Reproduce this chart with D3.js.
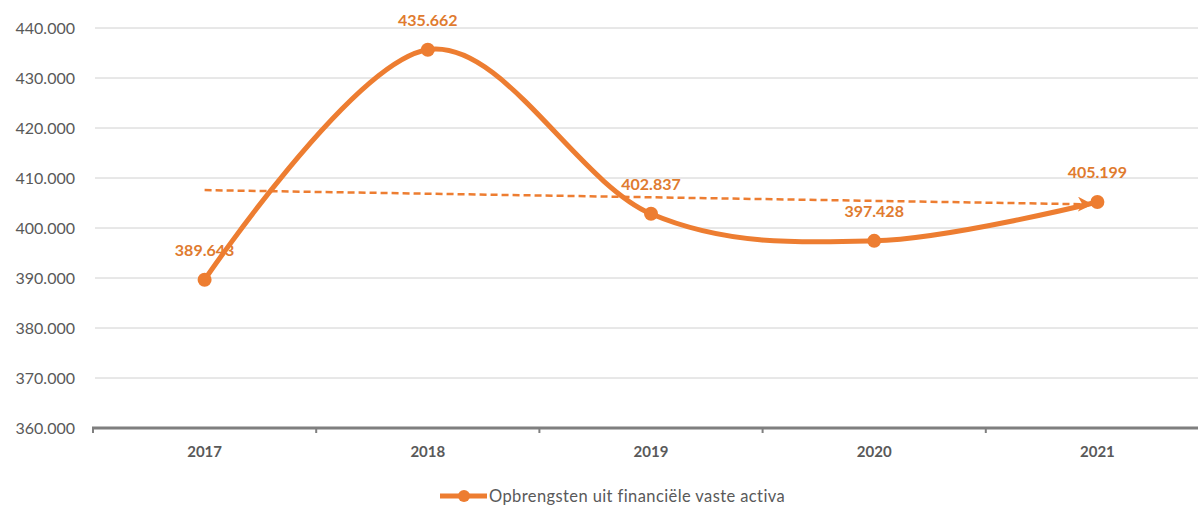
<!DOCTYPE html>
<meta charset="utf-8">
<style>
  body { margin: 0; background: #fff; }
  svg { display: block; font-family: Lato, "Open Sans", sans-serif; }
  .ylab { font-size: 16px; fill: #595959; text-anchor: end; }
  .xlab { font-size: 15px; font-weight: bold; fill: #595959; text-anchor: middle; }
  .grid line { stroke: #d0d0d0; stroke-width: 1; }
  .vlab { font-size: 16px; font-weight: bold; fill: #e07b2f; text-anchor: middle; }
  .legend { font-size: 16.5px; fill: #595959; letter-spacing: 0.4px; }
</style>
<body>
<svg width="1198" height="506"></svg>
<script src="https://d3js.org/d3.v7.min.js"></script>
<script>

var years = ["2017", "2018", "2019", "2020", "2021"];
var values = [389.643, 435.662, 402.837, 397.428, 405.199];
var yTicks = [360, 370, 380, 390, 400, 410, 420, 430, 440];
var seriesName = "Opbrengsten uit financiële vaste activa";

var orange = "#ed7d31";

var svg = d3.select("svg");

var x = d3.scaleBand()
    .domain(years)
    .range([93, 1209])
    .padding(0);

var y = d3.scaleLinear()
    .domain([360, 440])
    .range([428, 28]);

var fmt = function(v) { return d3.format(".3f")(v); };
var cx = function(d) { return x(d) + x.bandwidth() / 2; };

// gridlines
svg.append("g")
    .attr("class", "grid")
    .selectAll("line")
    .data(yTicks.filter(function(t) { return t > 360; }))
    .enter().append("line")
      .attr("x1", 95)
      .attr("x2", 1198)
      .attr("y1", function(d) { return y(d); })
      .attr("y2", function(d) { return y(d); });

// y labels
svg.append("g")
    .selectAll("text")
    .data(yTicks)
    .enter().append("text")
      .attr("class", "ylab")
      .attr("x", 75)
      .attr("y", function(d) { return y(d) + 6; })
      .text(function(d) { return fmt(d); });

// x axis
var xAxis = svg.append("g")
    .attr("transform", "translate(0," + y(360) + ")");
xAxis.append("line")
    .attr("x1", 92).attr("x2", 1198)
    .attr("y1", 0).attr("y2", 0)
    .attr("stroke", "#7f7f7f")
    .attr("stroke-width", 3);
xAxis.selectAll(".tick")
    .data(years)
    .enter().append("line")
      .attr("x1", function(d) { return x(d); })
      .attr("x2", function(d) { return x(d); })
      .attr("y1", 0).attr("y2", 5)
      .attr("stroke", "#7f7f7f")
      .attr("stroke-width", 2);
xAxis.selectAll("text")
    .data(years)
    .enter().append("text")
      .attr("class", "xlab")
      .attr("x", function(d) { return cx(d); })
      .attr("y", 29)
      .text(function(d) { return d; });

// value labels (under the line)
svg.append("g")
    .selectAll("text")
    .data(years)
    .enter().append("text")
      .attr("class", "vlab")
      .attr("x", function(d) { return cx(d); })
      .attr("y", function(d, i) { return y(values[i]) - 24; })
      .text(function(d, i) { return fmt(values[i]); });

// linear trendline
var n = values.length;
var mx = d3.mean(d3.range(n));
var my = d3.mean(values);
var slope = d3.sum(d3.range(n), function(i) { return (i - mx) * (values[i] - my); }) /
            d3.sum(d3.range(n), function(i) { return (i - mx) * (i - mx); });
var trend = function(i) { return my + slope * (i - mx); };

svg.append("defs").append("marker")
    .attr("id", "arrow")
    .attr("viewBox", "0 0 10 10")
    .attr("refX", 9).attr("refY", 5)
    .attr("markerWidth", 6).attr("markerHeight", 6)
    .attr("orient", "auto")
  .append("path")
    .attr("d", "M0,0 L10,5 L0,10 L3,5 Z")
    .attr("fill", orange);

svg.append("line")
    .attr("x1", cx(years[0]))
    .attr("y1", y(trend(0)))
    .attr("x2", cx(years[n - 1]) - 6)
    .attr("y2", y(trend(n - 1)))
    .attr("stroke", orange)
    .attr("stroke-width", 2.5)
    .attr("stroke-dasharray", "7,4")
    .attr("marker-end", "url(#arrow)");

// series line
var line = d3.line()
    .x(function(d) { return cx(d); })
    .y(function(d, i) { return y(values[i]); })
    .curve(d3.curveCatmullRom.alpha(0));

svg.append("path")
    .datum(years)
    .attr("d", line)
    .attr("fill", "none")
    .attr("stroke", orange)
    .attr("stroke-width", 5)
    .attr("stroke-linecap", "round");

svg.append("g")
    .selectAll("circle")
    .data(years)
    .enter().append("circle")
      .attr("cx", function(d) { return cx(d); })
      .attr("cy", function(d, i) { return y(values[i]); })
      .attr("r", 7)
      .attr("fill", orange);

// legend
var lg = svg.append("g").attr("transform", "translate(440,496)");
lg.append("line")
    .attr("x1", 0).attr("x2", 47)
    .attr("stroke", orange)
    .attr("stroke-width", 5);
lg.append("circle")
    .attr("cx", 24).attr("r", 6)
    .attr("fill", orange);
lg.append("text")
    .attr("class", "legend")
    .attr("x", 49)
    .attr("y", 6)
    .text(seriesName);

</script>
</body>
